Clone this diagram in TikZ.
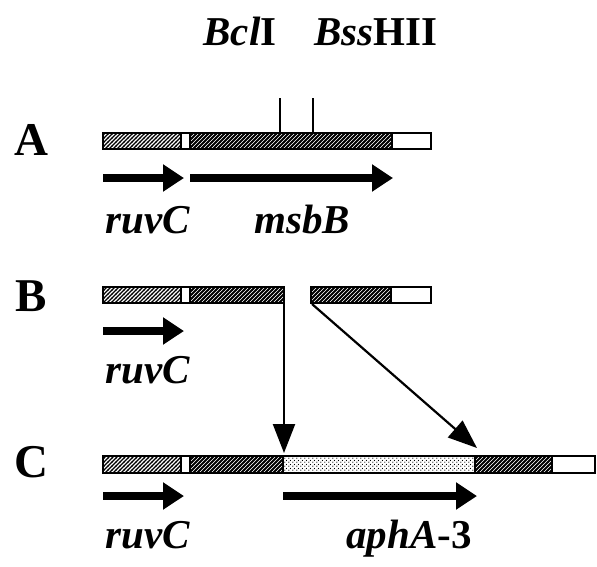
\documentclass[tikz,border=0pt]{standalone}
\usepackage{fontspec}
\setmainfont{Liberation Serif}
\usetikzlibrary{arrows.meta,patterns.meta}
\tikzdeclarepattern{name=lighthatch,type=uncolored,bounding box={(-.5pt,-.5pt) and (4.5pt,4.5pt)},tile size={(4pt,4pt)},parameters={},code={\draw[line width=1.1pt] (-.5pt,-.5pt) -- (4.5pt,4.5pt);}}
\tikzdeclarepattern{name=darkhatch,type=uncolored,bounding box={(-.5pt,-.5pt) and (4.5pt,4.5pt)},tile size={(4pt,4pt)},parameters={},code={\draw[line width=1.9pt] (-.5pt,-.5pt) -- (4.5pt,4.5pt);}}
\tikzdeclarepattern{name=stipple,type=uncolored,bounding box={(0pt,0pt) and (4pt,4pt)},tile size={(4pt,4pt)},parameters={},code={\fill (1pt,1pt) circle (0.75pt); \fill (3pt,3pt) circle (0.75pt);}}
\begin{document}
\begin{tikzpicture}[x=1pt,y=-1pt,
  seg/.style={draw=black,line width=2.5pt},
  light/.style={seg,pattern=lighthatch},
  dark/.style={seg,pattern=darkhatch},
  dots/.style={seg,pattern=stipple},
  plain/.style={seg,fill=white},
  gene/.style={line width=8pt,-{Triangle[length=21pt,width=26pt]}},
  move/.style={line width=2.2pt,-{Triangle[length=29pt,width=22pt]}},
  site/.style={line width=1.6pt},
  lab/.style={font=\fontsize{41}{41}\selectfont\bfseries\itshape,anchor=base,inner sep=0pt},
  row/.style={font=\fontsize{47}{47}\selectfont\bfseries,anchor=base,inner sep=0pt}]
\useasboundingbox (0,0) rectangle (597,566);
% enzyme labels
\node[lab] (bcl) at (240,45) {Bcl\upshape I};
\node[lab] (bss) at (376,45) {Bss\upshape HII};
% row labels
\node[row] (rA) at (31,155) {A};
\node[row] (rB) at (31,311) {B};
\node[row] (rC) at (31,477) {C};
% Row A
\draw[light] (103,133) rectangle (181,149);
\draw[plain] (181,133) rectangle (190,149);
\draw[dark] (190,133) rectangle (392,149);
\draw[plain] (392,133) rectangle (431,149);
\coordinate (s1b) at (280,133); \coordinate (s1t) at (280,98);
\coordinate (s2b) at (313,133); \coordinate (s2t) at (313,98);
\draw[site] (s1b) -- (s1t);
\draw[site] (s2b) -- (s2t);
\coordinate (a1s) at (103,178); \coordinate (a1e) at (184,178);
\coordinate (a2s) at (190,178); \coordinate (a2e) at (393,178);
\draw[gene] (a1s) -- (a1e);
\draw[gene] (a2s) -- (a2e);
\node[lab] (ruvA) at (148,233) {ruvC};
\node[lab] (msb) at (302,233) {msbB};
% Row B
\draw[light] (103,287) rectangle (181,303);
\draw[plain] (181,287) rectangle (190,303);
\draw[dark] (190,287) rectangle (284,303);
\draw[dark] (311,287) rectangle (391,303);
\draw[plain] (391,287) rectangle (431,303);
\coordinate (b1s) at (103,331); \coordinate (b1e) at (184,331);
\draw[gene] (b1s) -- (b1e);
\node[lab] (ruvB) at (148,383) {ruvC};
% Row C
\draw[light] (103,456) rectangle (181,473);
\draw[plain] (181,456) rectangle (190,473);
\draw[dark] (190,456) rectangle (283,473);
\draw[dots] (283,456) rectangle (475,473);
\draw[dark] (475,456) rectangle (552,473);
\draw[plain] (552,456) rectangle (595,473);
\coordinate (c1s) at (103,496); \coordinate (c1e) at (184,496);
\coordinate (c2s) at (283,496); \coordinate (c2e) at (477,496);
\draw[gene] (c1s) -- (c1e);
\draw[gene] (c2s) -- (c2e);
\node[lab] (ruvCC) at (148,548) {ruvC};
\node[lab] (aph) at (409,548) {aphA\upshape -3};
% insertion arrows
\coordinate (m1s) at (284,303); \coordinate (m1e) at (284,453);
\coordinate (m2s) at (312,304); \coordinate (m2e) at (477,448);
\draw[move] (m1s) -- (m1e);
\draw[move] (m2s) -- (m2e);
\end{tikzpicture}
\end{document}
